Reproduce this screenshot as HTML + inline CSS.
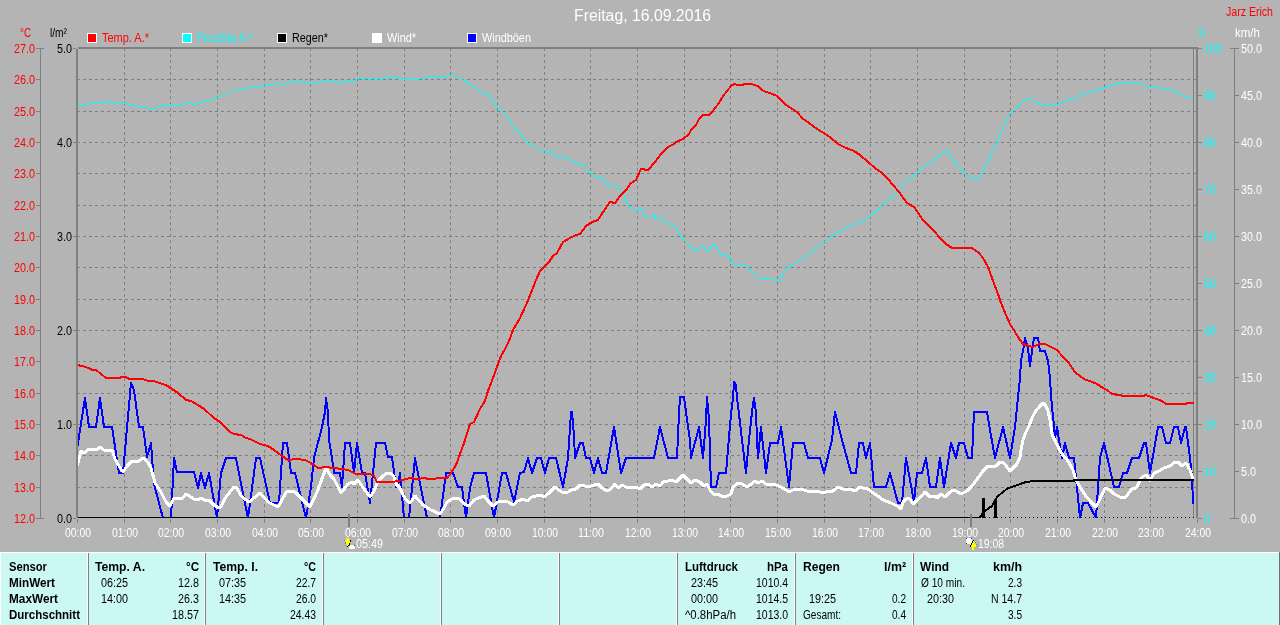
<!DOCTYPE html>
<html><head><meta charset="utf-8"><title>Freitag, 16.09.2016</title>
<style>
html,body{margin:0;padding:0;background:#b4b4b4;overflow:hidden;}
svg{display:block;font-family:"Liberation Sans",Arial,sans-serif;}
</style></head><body>
<svg width="1280" height="625" viewBox="0 0 1280 625">
<rect x="0" y="0" width="1280" height="625" fill="#b4b4b4"/>
<path d="M77 79.5H1196 M77 111.5H1196 M77 142.5H1196 M77 173.5H1196 M77 205.5H1196 M77 236.5H1196 M77 267.5H1196 M77 299.5H1196 M77 330.5H1196 M77 361.5H1196 M77 393.5H1196 M77 424.5H1196 M77 455.5H1196 M77 487.5H1196 M124.5 48V518 M170.5 48V518 M217.5 48V518 M264.5 48V518 M310.5 48V518 M357.5 48V518 M404.5 48V518 M450.5 48V518 M497.5 48V518 M544.5 48V518 M590.5 48V518 M637.5 48V518 M684.5 48V518 M730.5 48V518 M777.5 48V518 M824.5 48V518 M870.5 48V518 M917.5 48V518 M964.5 48V518 M1010.5 48V518 M1057.5 48V518 M1104.5 48V518 M1150.5 48V518" stroke="#808080" stroke-width="1" stroke-dasharray="3 3" fill="none"/>
<path d="M77.5 519V523 M124.5 519V523 M170.5 519V523 M217.5 519V523 M264.5 519V523 M310.5 519V523 M357.5 519V523 M404.5 519V523 M450.5 519V523 M497.5 519V523 M544.5 519V523 M590.5 519V523 M637.5 519V523 M684.5 519V523 M730.5 519V523 M777.5 519V523 M824.5 519V523 M870.5 519V523 M917.5 519V523 M964.5 519V523 M1010.5 519V523 M1057.5 519V523 M1104.5 519V523 M1150.5 519V523 M1197.5 519V523" stroke="#808080" stroke-width="1" fill="none"/>
<rect x="78" y="47" width="1120" height="2" fill="#808080"/>
<rect x="76" y="49" width="2" height="469" fill="#808080"/>
<rect x="1196" y="47" width="2" height="471" fill="#808080"/>
<rect x="1193" y="49" width="1" height="469" fill="#808080"/>
<rect x="40" y="48" width="1" height="471" fill="#808080"/>
<rect x="36" y="48" width="8" height="1" fill="#808080"/>
<rect x="36" y="518" width="8" height="1" fill="#808080"/>
<rect x="36" y="79" width="4" height="1" fill="#808080"/>
<rect x="36" y="111" width="4" height="1" fill="#808080"/>
<rect x="36" y="142" width="4" height="1" fill="#808080"/>
<rect x="36" y="173" width="4" height="1" fill="#808080"/>
<rect x="36" y="205" width="4" height="1" fill="#808080"/>
<rect x="36" y="236" width="4" height="1" fill="#808080"/>
<rect x="36" y="267" width="4" height="1" fill="#808080"/>
<rect x="36" y="299" width="4" height="1" fill="#808080"/>
<rect x="36" y="330" width="4" height="1" fill="#808080"/>
<rect x="36" y="361" width="4" height="1" fill="#808080"/>
<rect x="36" y="393" width="4" height="1" fill="#808080"/>
<rect x="36" y="424" width="4" height="1" fill="#808080"/>
<rect x="36" y="455" width="4" height="1" fill="#808080"/>
<rect x="36" y="487" width="4" height="1" fill="#808080"/>
<rect x="73" y="48" width="3" height="1" fill="#808080"/>
<rect x="73" y="142" width="3" height="1" fill="#808080"/>
<rect x="73" y="236" width="3" height="1" fill="#808080"/>
<rect x="73" y="330" width="3" height="1" fill="#808080"/>
<rect x="73" y="424" width="3" height="1" fill="#808080"/>
<rect x="73" y="518" width="3" height="1" fill="#808080"/>
<rect x="1198" y="48" width="4" height="1" fill="#808080"/>
<rect x="1198" y="95" width="4" height="1" fill="#808080"/>
<rect x="1198" y="142" width="4" height="1" fill="#808080"/>
<rect x="1198" y="189" width="4" height="1" fill="#808080"/>
<rect x="1198" y="236" width="4" height="1" fill="#808080"/>
<rect x="1198" y="283" width="4" height="1" fill="#808080"/>
<rect x="1198" y="330" width="4" height="1" fill="#808080"/>
<rect x="1198" y="377" width="4" height="1" fill="#808080"/>
<rect x="1198" y="424" width="4" height="1" fill="#808080"/>
<rect x="1198" y="471" width="4" height="1" fill="#808080"/>
<rect x="1198" y="518" width="4" height="1" fill="#808080"/>
<rect x="1234" y="48" width="1" height="471" fill="#808080"/>
<rect x="1230" y="48" width="9" height="1" fill="#808080"/>
<rect x="1230" y="518" width="9" height="1" fill="#808080"/>
<rect x="1235" y="95" width="4" height="1" fill="#808080"/>
<rect x="1235" y="142" width="4" height="1" fill="#808080"/>
<rect x="1235" y="189" width="4" height="1" fill="#808080"/>
<rect x="1235" y="236" width="4" height="1" fill="#808080"/>
<rect x="1235" y="283" width="4" height="1" fill="#808080"/>
<rect x="1235" y="330" width="4" height="1" fill="#808080"/>
<rect x="1235" y="377" width="4" height="1" fill="#808080"/>
<rect x="1235" y="424" width="4" height="1" fill="#808080"/>
<rect x="1235" y="471" width="4" height="1" fill="#808080"/>
<text x="14.00" y="53" font-size="12" fill="#ff0000" textLength="20.98" lengthAdjust="spacingAndGlyphs">27.0</text>
<text x="14.00" y="84" font-size="12" fill="#ff0000" textLength="20.98" lengthAdjust="spacingAndGlyphs">26.0</text>
<text x="14.00" y="116" font-size="12" fill="#ff0000" textLength="20.98" lengthAdjust="spacingAndGlyphs">25.0</text>
<text x="14.00" y="147" font-size="12" fill="#ff0000" textLength="20.98" lengthAdjust="spacingAndGlyphs">24.0</text>
<text x="14.00" y="178" font-size="12" fill="#ff0000" textLength="20.98" lengthAdjust="spacingAndGlyphs">23.0</text>
<text x="14.00" y="210" font-size="12" fill="#ff0000" textLength="20.98" lengthAdjust="spacingAndGlyphs">22.0</text>
<text x="14.00" y="241" font-size="12" fill="#ff0000" textLength="20.98" lengthAdjust="spacingAndGlyphs">21.0</text>
<text x="14.00" y="272" font-size="12" fill="#ff0000" textLength="20.98" lengthAdjust="spacingAndGlyphs">20.0</text>
<text x="14.00" y="304" font-size="12" fill="#ff0000" textLength="20.98" lengthAdjust="spacingAndGlyphs">19.0</text>
<text x="14.00" y="335" font-size="12" fill="#ff0000" textLength="20.98" lengthAdjust="spacingAndGlyphs">18.0</text>
<text x="14.00" y="366" font-size="12" fill="#ff0000" textLength="20.98" lengthAdjust="spacingAndGlyphs">17.0</text>
<text x="14.00" y="398" font-size="12" fill="#ff0000" textLength="20.98" lengthAdjust="spacingAndGlyphs">16.0</text>
<text x="14.00" y="429" font-size="12" fill="#ff0000" textLength="20.98" lengthAdjust="spacingAndGlyphs">15.0</text>
<text x="14.00" y="460" font-size="12" fill="#ff0000" textLength="20.98" lengthAdjust="spacingAndGlyphs">14.0</text>
<text x="14.00" y="492" font-size="12" fill="#ff0000" textLength="20.98" lengthAdjust="spacingAndGlyphs">13.0</text>
<text x="14.00" y="523" font-size="12" fill="#ff0000" textLength="20.98" lengthAdjust="spacingAndGlyphs">12.0</text>
<text x="57.00" y="53" font-size="12" fill="#000000" textLength="14.99" lengthAdjust="spacingAndGlyphs">5.0</text>
<text x="57.00" y="147" font-size="12" fill="#000000" textLength="14.99" lengthAdjust="spacingAndGlyphs">4.0</text>
<text x="57.00" y="241" font-size="12" fill="#000000" textLength="14.99" lengthAdjust="spacingAndGlyphs">3.0</text>
<text x="57.00" y="335" font-size="12" fill="#000000" textLength="14.99" lengthAdjust="spacingAndGlyphs">2.0</text>
<text x="57.00" y="429" font-size="12" fill="#000000" textLength="14.99" lengthAdjust="spacingAndGlyphs">1.0</text>
<text x="57.00" y="523" font-size="12" fill="#000000" textLength="14.99" lengthAdjust="spacingAndGlyphs">0.0</text>
<text x="1204.00" y="53" font-size="12" fill="#00ffff" textLength="18.02" lengthAdjust="spacingAndGlyphs">100</text>
<text x="1204.00" y="100" font-size="12" fill="#00ffff" textLength="11.98" lengthAdjust="spacingAndGlyphs">90</text>
<text x="1204.00" y="147" font-size="12" fill="#00ffff" textLength="11.98" lengthAdjust="spacingAndGlyphs">80</text>
<text x="1204.00" y="194" font-size="12" fill="#00ffff" textLength="11.98" lengthAdjust="spacingAndGlyphs">70</text>
<text x="1204.00" y="241" font-size="12" fill="#00ffff" textLength="11.98" lengthAdjust="spacingAndGlyphs">60</text>
<text x="1204.00" y="288" font-size="12" fill="#00ffff" textLength="11.98" lengthAdjust="spacingAndGlyphs">50</text>
<text x="1204.00" y="335" font-size="12" fill="#00ffff" textLength="11.98" lengthAdjust="spacingAndGlyphs">40</text>
<text x="1204.00" y="382" font-size="12" fill="#00ffff" textLength="11.98" lengthAdjust="spacingAndGlyphs">30</text>
<text x="1204.00" y="429" font-size="12" fill="#00ffff" textLength="11.98" lengthAdjust="spacingAndGlyphs">20</text>
<text x="1204.00" y="476" font-size="12" fill="#00ffff" textLength="11.98" lengthAdjust="spacingAndGlyphs">10</text>
<text x="1204.00" y="523" font-size="12" fill="#00ffff" textLength="5.99" lengthAdjust="spacingAndGlyphs">0</text>
<text x="1241.00" y="53" font-size="12" fill="#ffffff" textLength="20.98" lengthAdjust="spacingAndGlyphs">50.0</text>
<text x="1241.00" y="100" font-size="12" fill="#ffffff" textLength="20.98" lengthAdjust="spacingAndGlyphs">45.0</text>
<text x="1241.00" y="147" font-size="12" fill="#ffffff" textLength="20.98" lengthAdjust="spacingAndGlyphs">40.0</text>
<text x="1241.00" y="194" font-size="12" fill="#ffffff" textLength="20.98" lengthAdjust="spacingAndGlyphs">35.0</text>
<text x="1241.00" y="241" font-size="12" fill="#ffffff" textLength="20.98" lengthAdjust="spacingAndGlyphs">30.0</text>
<text x="1241.00" y="288" font-size="12" fill="#ffffff" textLength="20.98" lengthAdjust="spacingAndGlyphs">25.0</text>
<text x="1241.00" y="335" font-size="12" fill="#ffffff" textLength="20.98" lengthAdjust="spacingAndGlyphs">20.0</text>
<text x="1241.00" y="382" font-size="12" fill="#ffffff" textLength="20.98" lengthAdjust="spacingAndGlyphs">15.0</text>
<text x="1241.00" y="429" font-size="12" fill="#ffffff" textLength="20.98" lengthAdjust="spacingAndGlyphs">10.0</text>
<text x="1241.00" y="476" font-size="12" fill="#ffffff" textLength="14.99" lengthAdjust="spacingAndGlyphs">5.0</text>
<text x="1241.00" y="523" font-size="12" fill="#ffffff" textLength="14.99" lengthAdjust="spacingAndGlyphs">0.0</text>
<text x="20.00" y="37" font-size="12" fill="#ff0000" textLength="11.02" lengthAdjust="spacingAndGlyphs">°C</text>
<text x="50.00" y="37" font-size="12" fill="#000000" textLength="16.99" lengthAdjust="spacingAndGlyphs">l/m²</text>
<text x="1198.00" y="37" font-size="12" fill="#00ffff" textLength="6.99" lengthAdjust="spacingAndGlyphs">%</text>
<text x="1235.00" y="37" font-size="12" fill="#ffffff" textLength="25.00" lengthAdjust="spacingAndGlyphs">km/h</text>
<text x="1226.00" y="16" font-size="12" fill="#ff0000" textLength="46.97" lengthAdjust="spacingAndGlyphs">Jarz Erich</text>
<text x="574.00" y="21" font-size="16" fill="#ffffff" textLength="137.02" lengthAdjust="spacingAndGlyphs">Freitag, 16.09.2016</text>
<rect x="87" y="33" width="10" height="10" fill="#ffffff"/>
<rect x="88" y="34" width="8" height="8" fill="#ff0000"/>
<text x="102.00" y="42" font-size="12" fill="#ff0000" textLength="46.98" lengthAdjust="spacingAndGlyphs">Temp. A.*</text>
<rect x="182" y="33" width="10" height="10" fill="#ffffff"/>
<rect x="183" y="34" width="8" height="8" fill="#00ffff"/>
<text x="197.00" y="42" font-size="12" fill="#00ffff" textLength="55.98" lengthAdjust="spacingAndGlyphs">Feuchte A.*</text>
<rect x="277" y="33" width="10" height="10" fill="#ffffff"/>
<rect x="278" y="34" width="8" height="8" fill="#000000"/>
<text x="292.00" y="42" font-size="12" fill="#000000" textLength="35.97" lengthAdjust="spacingAndGlyphs">Regen*</text>
<rect x="372" y="33" width="10" height="10" fill="#ffffff"/>
<rect x="373" y="34" width="8" height="8" fill="#ffffff"/>
<text x="387.00" y="42" font-size="12" fill="#ffffff" textLength="29.01" lengthAdjust="spacingAndGlyphs">Wind*</text>
<rect x="467" y="33" width="10" height="10" fill="#ffffff"/>
<rect x="468" y="34" width="8" height="8" fill="#0000ff"/>
<text x="482.00" y="42" font-size="12" fill="#ffffff" textLength="48.98" lengthAdjust="spacingAndGlyphs">Windböen</text>
<text x="65.00" y="537" font-size="12" fill="#ffffff" textLength="26.03" lengthAdjust="spacingAndGlyphs">00:00</text>
<text x="112.00" y="537" font-size="12" fill="#ffffff" textLength="26.03" lengthAdjust="spacingAndGlyphs">01:00</text>
<text x="158.00" y="537" font-size="12" fill="#ffffff" textLength="26.03" lengthAdjust="spacingAndGlyphs">02:00</text>
<text x="205.00" y="537" font-size="12" fill="#ffffff" textLength="26.03" lengthAdjust="spacingAndGlyphs">03:00</text>
<text x="252.00" y="537" font-size="12" fill="#ffffff" textLength="26.03" lengthAdjust="spacingAndGlyphs">04:00</text>
<text x="298.00" y="537" font-size="12" fill="#ffffff" textLength="26.03" lengthAdjust="spacingAndGlyphs">05:00</text>
<text x="345.00" y="537" font-size="12" fill="#ffffff" textLength="26.03" lengthAdjust="spacingAndGlyphs">06:00</text>
<text x="392.00" y="537" font-size="12" fill="#ffffff" textLength="26.03" lengthAdjust="spacingAndGlyphs">07:00</text>
<text x="438.00" y="537" font-size="12" fill="#ffffff" textLength="26.03" lengthAdjust="spacingAndGlyphs">08:00</text>
<text x="485.00" y="537" font-size="12" fill="#ffffff" textLength="26.03" lengthAdjust="spacingAndGlyphs">09:00</text>
<text x="532.00" y="537" font-size="12" fill="#ffffff" textLength="26.03" lengthAdjust="spacingAndGlyphs">10:00</text>
<text x="578.00" y="537" font-size="12" fill="#ffffff" textLength="26.01" lengthAdjust="spacingAndGlyphs">11:00</text>
<text x="625.00" y="537" font-size="12" fill="#ffffff" textLength="26.03" lengthAdjust="spacingAndGlyphs">12:00</text>
<text x="672.00" y="537" font-size="12" fill="#ffffff" textLength="26.03" lengthAdjust="spacingAndGlyphs">13:00</text>
<text x="718.00" y="537" font-size="12" fill="#ffffff" textLength="26.03" lengthAdjust="spacingAndGlyphs">14:00</text>
<text x="765.00" y="537" font-size="12" fill="#ffffff" textLength="26.03" lengthAdjust="spacingAndGlyphs">15:00</text>
<text x="812.00" y="537" font-size="12" fill="#ffffff" textLength="26.03" lengthAdjust="spacingAndGlyphs">16:00</text>
<text x="858.00" y="537" font-size="12" fill="#ffffff" textLength="26.03" lengthAdjust="spacingAndGlyphs">17:00</text>
<text x="905.00" y="537" font-size="12" fill="#ffffff" textLength="26.03" lengthAdjust="spacingAndGlyphs">18:00</text>
<text x="952.00" y="537" font-size="12" fill="#ffffff" textLength="26.03" lengthAdjust="spacingAndGlyphs">19:00</text>
<text x="998.00" y="537" font-size="12" fill="#ffffff" textLength="26.03" lengthAdjust="spacingAndGlyphs">20:00</text>
<text x="1045.00" y="537" font-size="12" fill="#ffffff" textLength="26.03" lengthAdjust="spacingAndGlyphs">21:00</text>
<text x="1092.00" y="537" font-size="12" fill="#ffffff" textLength="26.03" lengthAdjust="spacingAndGlyphs">22:00</text>
<text x="1138.00" y="537" font-size="12" fill="#ffffff" textLength="26.03" lengthAdjust="spacingAndGlyphs">23:00</text>
<text x="1185.00" y="537" font-size="12" fill="#ffffff" textLength="26.03" lengthAdjust="spacingAndGlyphs">24:00</text>
<clipPath id="pc"><rect x="78" y="49" width="1118" height="469"/></clipPath>
<g clip-path="url(#pc)">
<path d="M77.5,446 L85,398 L89,427 L96,427 L100,398 L104,427 L112,427 L119,473 L123,473 L131,383 L134,390 L139,427 L143,427 L147,457 L151,443 L154,484 L163,518 L171,518 L174,458 L177,472 L194,472 L198,488 L201,473 L205,488 L209,473 L217,518 L221,473 L226,458 L236,458 L248,518 L256,458 L260,458 L270,503 L279,503 L283,443 L287,443 L291,473 L295,473 L306,518 L311,487 L314,458 L322,427 L325,412 L326,398 L328,412 L329,440 L332,458 L334,473 L340,473 L342,487 L345,443 L350,443 L354,473 L357,443 L362,473 L365,473 L370,503 L376,443 L385,443 L388,457 L392,457 L396,487 L398,487 L400,473 L404,518 L409,518 L415,458 L427,518 L440,518 L446,473 L453,473 L458,487 L462,487 L466,518 L470,488 L474,473 L486,473 L494,518 L502,473 L506,473 L514,502 L520,473 L524,472 L528,458 L532,473 L537,458 L541,458 L545,473 L549,458 L556,458 L563,487 L568,458 L570,428 L571,412 L572,412 L574,436 L575,458 L580,443 L583,443 L586,458 L590,458 L594,473 L598,458 L602,473 L606,473 L614,427 L621,473 L626,458 L654,458 L660,427 L668,458 L677,458 L679,413 L680,397 L684,397 L686,412 L690,440 L691,458 L699,427 L703,458 L706,420 L707,397 L709,420 L711,487 L716,487 L719,473 L726,473 L731,414 L733,398 L734,382 L736,385 L737,398 L739,414 L742,440 L746,473 L749,440 L752,412 L754,398 L756,412 L757,440 L758,458 L761,427 L766,473 L770,443 L778,443 L781,427 L789,487 L793,443 L804,443 L808,458 L820,458 L824,473 L832,440 L835,412 L842,440 L851,473 L856,473 L859,443 L863,443 L866,458 L870,443 L874,487 L886,487 L890,473 L898,503 L902,503 L906,458 L914,502 L917,473 L922,473 L926,458 L930,487 L936,487 L940,458 L944,487 L951,443 L956,458 L959,443 L964,443 L968,458 L972,458 L974,412 L987,412 L990,430 L995,458 L1003,427 L1010,458 L1015,427 L1018,397 L1020,378 L1021,360 L1023,351 L1025,338 L1028,349 L1030,366 L1032,351 L1034,338 L1038,338 L1040,351 L1045,351 L1048,361 L1050,378 L1051,395 L1052,407 L1054,426 L1055,438 L1057,427 L1059,440 L1062,458 L1065,443 L1069,458 L1074,458 L1080,518 L1083,503 L1088,503 L1096,518 L1100,458 L1104,443 L1114,487 L1119,487 L1123,473 L1127,473 L1132,458 L1139,458 L1144,443 L1146,443 L1150,473 L1158,427 L1162,427 L1166,443 L1170,443 L1174,427 L1178,427 L1181,443 L1185,427 L1186,427 L1190,458 L1192,477 L1193,503" stroke="#0000ff" stroke-width="2" fill="none" stroke-linejoin="round" stroke-linecap="round" shape-rendering="crispEdges"/>
<path d="M77.5,465 L81,451 L84,453 L89,449 L98,449 L100,447 L104,450 L112,450 L115,459 L119,466 L123,472 L127,466 L132,461 L134,462 L139,461 L143,458 L147,461 L151,468 L155,483 L161,492 L166,502 L170,506 L174,498 L182,499 L186,494 L194,499 L198,500 L201,498 L206,501 L209,500 L215,506 L220,508 L226,497 L234,487 L236,487 L242,497 L249,502 L260,493 L268,502 L278,507 L287,491 L295,492 L302,499 L310,507 L317,492 L326,468 L330,475 L334,479 L341,493 L348,484 L352,482 L354,484 L358,480 L362,486 L370,497 L374,491 L378,481 L383,476 L387,473 L391,473 L394,477 L396,484 L400,488 L403,495 L407,501 L410,503 L415,496 L423,505 L431,510 L440,514 L444,508 L447,502 L452,499 L458,498 L466,505 L469,506 L474,500 L476,499 L484,496 L488,501 L493,506 L498,502 L505,501 L508,502 L513,505 L518,501 L523,499 L527,501 L532,497 L536,496 L541,495 L544,497 L548,494 L555,487 L560,491 L564,493 L568,492 L573,489 L576,489 L580,485 L583,485 L587,487 L591,486 L598,484 L602,488 L607,491 L611,489 L615,484 L618,488 L622,485 L628,488 L633,487 L636,487 L640,489 L644,485 L648,484 L652,487 L656,484 L660,486 L663,482 L668,481 L672,480 L676,482 L680,478 L683,475 L687,479 L691,483 L695,480 L700,482 L704,486 L707,484 L711,492 L715,495 L718,494 L723,497 L727,496 L731,494 L733,487 L738,483 L742,484 L747,487 L750,485 L755,481 L758,483 L762,481 L766,484 L771,484 L776,485 L781,487 L786,490 L789,492 L793,490 L796,489 L801,489 L807,491 L815,491 L820,492 L824,493 L828,491 L833,491 L838,487 L843,489 L850,489 L855,491 L860,487 L863,488 L868,489 L873,493 L878,496 L883,500 L891,503 L897,506 L901,509 L903,502 L906,499 L909,498 L913,504 L917,500 L921,497 L925,492 L930,497 L935,496 L937,498 L941,494 L945,497 L950,492 L953,490 L956,491 L961,494 L967,491 L972,486 L978,478 L983,471 L988,466 L992,467 L996,466 L1000,462 L1003,462 L1010,471 L1017,464 L1020,457 L1021,450 L1023,440 L1026,432 L1029,426 L1032,418 L1035,412 L1040,406 L1043,403 L1046,406 L1048,411 L1050,420 L1052,434 L1057,445 L1062,454 L1068,461 L1073,470 L1076,480 L1080,487 L1085,495 L1091,502 L1096,507 L1100,499 L1105,488 L1110,490 L1114,494 L1120,497 L1126,497 L1130,491 L1132,489 L1136,488 L1142,477 L1146,475 L1148,477 L1150,481 L1154,473 L1159,471 L1164,468 L1170,466 L1175,462 L1178,462 L1182,466 L1186,463 L1190,470 L1193,479" stroke="#ffffff" stroke-width="3" fill="none" stroke-linejoin="round" stroke-linecap="round" shape-rendering="crispEdges"/>
<path d="M77 517.5H980" stroke="#000" stroke-width="1" fill="none"/>
<path d="M985 517.5H1194" stroke="#000" stroke-width="1" stroke-dasharray="1 3" fill="none"/>
<rect x="982" y="498" width="3" height="20" fill="#000"/>
<rect x="994" y="499" width="3" height="19" fill="#000"/>
<path d="M980,517 L984,511.5 L992,506 L995,500 L998,496 L1003,492 L1008,488 L1015,486 L1020,484 L1026,482 L1033,481.2 L1040,481 L1074,481 L1074,480 L1193,480" stroke="#000000" stroke-width="2" fill="none" stroke-linejoin="round" stroke-linecap="round" shape-rendering="crispEdges"/>
<path d="M77,104 L90,104 L92,103 L95,104 L99,102 L106,102 L108,101 L113,103 L124,103 L129,105 L131,104 L135,106 L142,107 L149,108 L156,108 L160,107 L165,105 L171,104 L184,104 L187,103 L191,104 L195,104 L198,102 L203,102 L204,101 L209,101 L213,99 L218,97 L222,95 L224,97 L229,92 L232,91 L238,90 L242,89 L245,88 L248,89 L251,88 L254,87 L260,87 L263,85 L268,86 L272,84 L276,84 L279,83 L283,85 L287,83 L291,81 L294,82 L298,81 L303,83 L307,82 L313,82 L315,83 L318,82 L322,80 L326,81 L332,81 L335,82 L338,83 L345,80 L349,81 L354,81 L357,79 L363,78 L371,78 L374,79 L378,79 L381,78 L385,78 L388,77 L395,77 L398,79 L406,79 L408,80 L412,78 L415,80 L419,78 L424,78 L426,77 L446,77 L449,75 L452,75 L454,76 L457,76 L460,79 L463,80 L466,82 L470,85 L472,86 L476,88 L481,92 L487,93 L490,97 L494,103 L498,108 L502,111 L508,117 L514,128 L520,133 L528,143 L535,147 L540,152 L544,150 L548,153 L552,151 L556,156 L564,157 L571,160 L574,161 L580,165 L584,164 L591,174 L598,178 L602,177 L607,185 L614,185 L620,190 L624,195 L628,205 L637,212 L641,208 L645,217 L649,218 L654,215 L656,220 L661,217 L664,222 L670,224 L676,227 L679,234 L685,241 L688,244 L691,248 L695,251 L700,247 L703,246 L708,252 L711,247 L715,244 L719,253 L722,255 L726,254 L731,260 L734,264 L743,264 L746,266 L750,271 L754,273 L759,278 L765,278 L770,280 L773,279 L778,282 L782,276 L789,266 L794,264 L799,261 L804,258 L809,254 L813,252 L817,247 L821,245 L825,241 L830,238 L838,232 L844,229 L850,226 L857,223 L865,220 L870,217 L876,212 L883,204 L888,201 L897,193 L901,189 L905,181 L913,177 L919,170 L924,166 L932,162 L938,157 L945,152 L948,150 L953,160 L959,167 L964,173 L971,178 L975,180 L981,175 L987,163 L995,146 L1002,130 L1009,115 L1015,109 L1020,103 L1026,100 L1030,99 L1036,102 L1041,104 L1045,105 L1049,106 L1055,105 L1061,103 L1066,101 L1071,99 L1076,98 L1082,94 L1087,93 L1092,91 L1098,90 L1103,88 L1108,86 L1113,85 L1118,83 L1126,82 L1137,82 L1140,83 L1143,84 L1147,86 L1156,86 L1159,88 L1165,88 L1167,89 L1171,89 L1175,91 L1179,94 L1183,96 L1187,97 L1190,98 L1193,98" stroke="#00ffff" stroke-width="1" fill="none" stroke-linejoin="round" stroke-linecap="round" shape-rendering="crispEdges"/>
<path d="M77,365 L82,366 L89,368 L92,370 L96,370 L101,374 L106,378 L119,378 L122,377 L126,377 L129,379 L143,379 L148,381 L154,381 L159,383 L166,385 L172,389 L178,393 L186,400 L191,401 L198,405 L204,409 L214,418 L220,422 L230,432 L234,434 L241,435 L246,438 L250,439 L260,444 L268,446 L274,450 L282,456 L288,460 L297,459 L305,460 L311,463 L318,468 L326,467 L334,468 L342,469 L348,470 L356,474 L362,474 L370,474 L374,476 L377,482 L393,482 L402,480 L410,478 L417,479 L425,478 L428,479 L434,479 L438,478 L447,478 L451,473 L456,465 L460,454 L463,446 L465,440 L470,424 L474,422 L480,409 L485,401 L488,391 L493,378 L497,367 L501,356 L505,349 L509,341 L513,330 L520,318 L526,305 L531,293 L536,280 L540,271 L544,267 L549,262 L553,256 L557,253 L563,242 L570,238 L576,235 L580,234 L586,226 L592,222 L598,220 L603,212 L610,202 L615,203 L620,196 L626,190 L631,183 L636,180 L641,169 L648,170 L655,162 L661,154 L668,147 L674,144 L676,142 L683,139 L689,134 L691,130 L696,125 L699,119 L703,115 L709,115 L712,112 L715,108 L719,103 L723,96 L727,91 L731,86 L734,84 L738,85 L742,85 L745,84 L752,84 L754,85 L758,86 L762,90 L766,92 L770,93 L777,96 L781,100 L786,105 L791,108 L798,113 L802,118 L809,123 L817,129 L822,132 L830,137 L838,144 L846,148 L854,151 L860,155 L868,162 L875,168 L882,173 L888,179 L899,192 L907,203 L914,207 L923,220 L933,230 L941,239 L946,244 L952,248 L972,248 L979,253 L983,258 L988,267 L992,278 L998,294 L1001,303 L1006,315 L1010,324 L1015,332 L1020,340 L1023,344 L1029,346 L1033,347 L1039,344 L1045,344 L1049,346 L1057,350 L1063,357 L1068,362 L1075,372 L1081,377 L1086,380 L1090,381 L1097,384 L1103,388 L1107,390 L1112,394 L1119,395 L1124,396 L1143,396 L1146,395 L1151,397 L1159,400 L1162,401 L1166,404 L1185,404 L1188,403 L1193,403" stroke="#ff0000" stroke-width="2" fill="none" stroke-linejoin="round" stroke-linecap="round" shape-rendering="crispEdges"/>
</g>
<rect x="348" y="514" width="2" height="13" fill="#808080"/>
<rect x="970" y="514" width="2" height="13" fill="#808080"/>
<text x="356.00" y="548" font-size="12" fill="#ffffff" textLength="27.03" lengthAdjust="spacingAndGlyphs">05:49</text>
<text x="978.00" y="548" font-size="12" fill="#ffffff" textLength="26.03" lengthAdjust="spacingAndGlyphs">19:08</text>
<path d="M346 538h3v2h1v3h-1v2h-1v1h-1v-1h-1v-2h-1v-3h1z" fill="#ffff00"/>
<rect x="350" y="540" width="1" height="1" fill="#000000"/><rect x="350" y="541" width="1" height="1" fill="#000000"/><rect x="349" y="543" width="1" height="1" fill="#000000"/><rect x="349" y="544" width="1" height="1" fill="#000000"/><rect x="348" y="545" width="1" height="1" fill="#000000"/><rect x="347" y="546" width="1" height="1" fill="#000000"/>
<rect x="344" y="540" width="1" height="1" fill="#6a6ae0"/><rect x="345" y="542" width="1" height="1" fill="#6a6ae0"/><rect x="345" y="543" width="1" height="1" fill="#6a6ae0"/><rect x="346" y="545" width="1" height="1" fill="#6a6ae0"/>
<path d="M350 545h4v1h1v3h-6v-3h1z" fill="#ffffff"/>
<rect x="349" y="545" width="1" height="1" fill="#2020a0"/><rect x="354" y="545" width="1" height="1" fill="#2020a0"/>
<path d="M967 538h4v1h1v4h-1v1h-4v-1h-1v-4h1z" fill="#ffffff"/>
<rect x="966" y="538" width="1" height="1" fill="#2020a0"/><rect x="971" y="538" width="1" height="1" fill="#2020a0"/><rect x="966" y="543" width="1" height="1" fill="#2020a0"/>
<path d="M973 540h1v2h1v2h1v3h-2v3h-2v-3h-2v-3h1v-2h1z" fill="#ffff00"/>
<rect x="973" y="540" width="1" height="1" fill="#000000"/><rect x="972" y="541" width="1" height="1" fill="#000000"/><rect x="972" y="542" width="1" height="1" fill="#000000"/><rect x="971" y="543" width="1" height="1" fill="#000000"/><rect x="971" y="544" width="1" height="1" fill="#000000"/><rect x="970" y="545" width="1" height="1" fill="#000000"/><rect x="970" y="546" width="1" height="1" fill="#000000"/>
<rect x="975" y="542" width="1" height="1" fill="#6a6ae0"/><rect x="976" y="544" width="1" height="1" fill="#6a6ae0"/><rect x="977" y="546" width="1" height="1" fill="#6a6ae0"/>
<rect x="0" y="552" width="1280" height="73" fill="#ccf8f4"/>
<rect x="0" y="552" width="1279" height="1" fill="#ffffff"/>
<rect x="0" y="552" width="1" height="73" fill="#ffffff"/>
<rect x="1279" y="552" width="1" height="73" fill="#707070"/>
<rect x="87" y="553" width="1" height="72" fill="#ffffff"/>
<rect x="88" y="553" width="1" height="72" fill="#808080"/>
<rect x="204" y="553" width="1" height="72" fill="#ffffff"/>
<rect x="205" y="553" width="1" height="72" fill="#808080"/>
<rect x="322" y="553" width="1" height="72" fill="#ffffff"/>
<rect x="323" y="553" width="1" height="72" fill="#808080"/>
<rect x="440" y="553" width="1" height="72" fill="#ffffff"/>
<rect x="441" y="553" width="1" height="72" fill="#808080"/>
<rect x="558" y="553" width="1" height="72" fill="#ffffff"/>
<rect x="559" y="553" width="1" height="72" fill="#808080"/>
<rect x="676" y="553" width="1" height="72" fill="#ffffff"/>
<rect x="677" y="553" width="1" height="72" fill="#808080"/>
<rect x="794" y="553" width="1" height="72" fill="#ffffff"/>
<rect x="795" y="553" width="1" height="72" fill="#808080"/>
<rect x="912" y="553" width="1" height="72" fill="#ffffff"/>
<rect x="913" y="553" width="1" height="72" fill="#808080"/>
<text x="9.00" y="571" font-size="12" font-weight="bold" fill="#000000" textLength="37.99" lengthAdjust="spacingAndGlyphs">Sensor</text>
<text x="9.00" y="587" font-size="12" font-weight="bold" fill="#000000" textLength="45.98" lengthAdjust="spacingAndGlyphs">MinWert</text>
<text x="9.00" y="603" font-size="12" font-weight="bold" fill="#000000" textLength="48.98" lengthAdjust="spacingAndGlyphs">MaxWert</text>
<text x="9.00" y="619" font-size="12" font-weight="bold" fill="#000000" textLength="71.00" lengthAdjust="spacingAndGlyphs">Durchschnitt</text>
<text x="95.00" y="571" font-size="12" font-weight="bold" fill="#000000" textLength="50.02" lengthAdjust="spacingAndGlyphs">Temp. A.</text>
<text x="186.00" y="571" font-size="12" font-weight="bold" fill="#000000" textLength="13.03" lengthAdjust="spacingAndGlyphs">°C</text>
<text x="101.00" y="587" font-size="12" fill="#000000" textLength="27.03" lengthAdjust="spacingAndGlyphs">06:25</text>
<text x="178.00" y="587" font-size="12" fill="#000000" textLength="20.98" lengthAdjust="spacingAndGlyphs">12.8</text>
<text x="101.00" y="603" font-size="12" fill="#000000" textLength="27.03" lengthAdjust="spacingAndGlyphs">14:00</text>
<text x="178.00" y="603" font-size="12" fill="#000000" textLength="20.98" lengthAdjust="spacingAndGlyphs">26.3</text>
<text x="172.00" y="619" font-size="12" fill="#000000" textLength="27.03" lengthAdjust="spacingAndGlyphs">18.57</text>
<text x="213.00" y="571" font-size="12" font-weight="bold" fill="#000000" textLength="45.01" lengthAdjust="spacingAndGlyphs">Temp. I.</text>
<text x="304.00" y="571" font-size="12" font-weight="bold" fill="#000000" textLength="12.02" lengthAdjust="spacingAndGlyphs">°C</text>
<text x="219.00" y="587" font-size="12" fill="#000000" textLength="27.03" lengthAdjust="spacingAndGlyphs">07:35</text>
<text x="296.00" y="587" font-size="12" fill="#000000" textLength="19.98" lengthAdjust="spacingAndGlyphs">22.7</text>
<text x="219.00" y="603" font-size="12" fill="#000000" textLength="27.03" lengthAdjust="spacingAndGlyphs">14:35</text>
<text x="296.00" y="603" font-size="12" fill="#000000" textLength="19.98" lengthAdjust="spacingAndGlyphs">26.0</text>
<text x="290.00" y="619" font-size="12" fill="#000000" textLength="26.03" lengthAdjust="spacingAndGlyphs">24.43</text>
<text x="685.00" y="571" font-size="12" font-weight="bold" fill="#000000" textLength="52.96" lengthAdjust="spacingAndGlyphs">Luftdruck</text>
<text x="767.00" y="571" font-size="12" font-weight="bold" fill="#000000" textLength="20.95" lengthAdjust="spacingAndGlyphs">hPa</text>
<text x="691.00" y="587" font-size="12" fill="#000000" textLength="27.03" lengthAdjust="spacingAndGlyphs">23:45</text>
<text x="756.00" y="587" font-size="12" fill="#000000" textLength="32.01" lengthAdjust="spacingAndGlyphs">1010.4</text>
<text x="691.00" y="603" font-size="12" fill="#000000" textLength="27.03" lengthAdjust="spacingAndGlyphs">00:00</text>
<text x="756.00" y="603" font-size="12" fill="#000000" textLength="32.01" lengthAdjust="spacingAndGlyphs">1014.5</text>
<text x="685.00" y="619" font-size="12" fill="#000000" textLength="50.99" lengthAdjust="spacingAndGlyphs">^0.8hPa/h</text>
<text x="756.00" y="619" font-size="12" fill="#000000" textLength="32.01" lengthAdjust="spacingAndGlyphs">1013.0</text>
<text x="803.00" y="571" font-size="12" font-weight="bold" fill="#000000" textLength="36.99" lengthAdjust="spacingAndGlyphs">Regen</text>
<text x="884.00" y="571" font-size="12" font-weight="bold" fill="#000000" textLength="22.02" lengthAdjust="spacingAndGlyphs">l/m²</text>
<text x="809.00" y="603" font-size="12" fill="#000000" textLength="27.03" lengthAdjust="spacingAndGlyphs">19:25</text>
<text x="892.00" y="603" font-size="12" fill="#000000" textLength="14.00" lengthAdjust="spacingAndGlyphs">0.2</text>
<text x="803.00" y="619" font-size="12" fill="#000000" textLength="37.98" lengthAdjust="spacingAndGlyphs">Gesamt:</text>
<text x="892.00" y="619" font-size="12" fill="#000000" textLength="14.00" lengthAdjust="spacingAndGlyphs">0.4</text>
<text x="920.00" y="571" font-size="12" font-weight="bold" fill="#000000" textLength="29.03" lengthAdjust="spacingAndGlyphs">Wind</text>
<text x="993.00" y="571" font-size="12" font-weight="bold" fill="#000000" textLength="29.01" lengthAdjust="spacingAndGlyphs">km/h</text>
<text x="921.00" y="587" font-size="12" fill="#000000" textLength="44.02" lengthAdjust="spacingAndGlyphs">Ø 10 min.</text>
<text x="1008.00" y="587" font-size="12" fill="#000000" textLength="14.00" lengthAdjust="spacingAndGlyphs">2.3</text>
<text x="927.00" y="603" font-size="12" fill="#000000" textLength="27.03" lengthAdjust="spacingAndGlyphs">20:30</text>
<text x="991.00" y="603" font-size="12" fill="#000000" textLength="30.98" lengthAdjust="spacingAndGlyphs">N 14.7</text>
<text x="1008.00" y="619" font-size="12" fill="#000000" textLength="14.00" lengthAdjust="spacingAndGlyphs">3.5</text>
</svg>
</body></html>
